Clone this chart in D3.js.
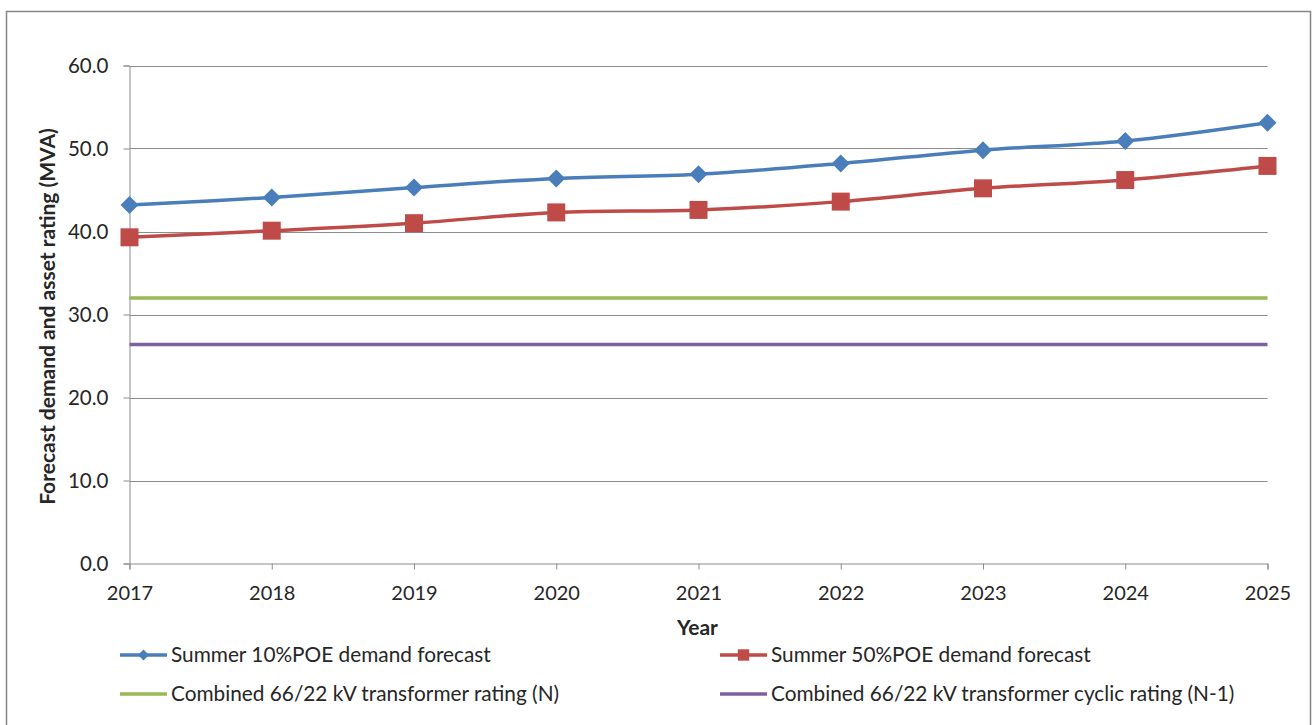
<!DOCTYPE html>
<html>
<head>
<meta charset="utf-8">
<script src="https://cdn.jsdelivr.net/npm/d3@7"></script>
<style>
  html, body { margin: 0; padding: 0; background: #fff; }
  svg { display: block; }
  text { font-family: Lato, "Open Sans", sans-serif; fill: #262626; }
</style>
</head>
<body>
<svg id="chart" width="1315" height="725"></svg>
<script>
// Forecast years and series values (MVA)
const years = [2017, 2018, 2019, 2020, 2021, 2022, 2023, 2024, 2025];
const summer10 = [43.2, 44.1, 45.3, 46.4, 46.9, 48.2, 49.8, 50.9, 53.1];
const summer50 = [39.3, 40.1, 41.0, 42.3, 42.6, 43.6, 45.2, 46.2, 47.9];
const ratingN = [32.0, 32.0, 32.0, 32.0, 32.0, 32.0, 32.0, 32.0, 32.0];
const ratingN1 = [26.4, 26.4, 26.4, 26.4, 26.4, 26.4, 26.4, 26.4, 26.4];
const yTicks = [0, 10, 20, 30, 40, 50, 60];

const series = [
  { name: "Summer 10%POE demand forecast", values: summer10, color: "#4A7EBB", marker: "diamond" },
  { name: "Summer 50%POE demand forecast", values: summer50, color: "#BE4B48", marker: "square" },
  { name: "Combined 66/22 kV transformer rating (N)", values: ratingN, color: "#98B954", marker: null },
  { name: "Combined 66/22 kV transformer cyclic rating (N-1)", values: ratingN1, color: "#7D60A0", marker: null }
];

const svg = d3.select("#chart");
const plot = { left: 129.5, right: 1267.5, top: 65.5, bottom: 563.5 };

// Outer chart frame
svg.append("rect")
  .attr("x", 6.5).attr("y", 11.5)
  .attr("width", 1304).attr("height", 730)
  .attr("fill", "#fff").attr("stroke", "#868686").attr("stroke-width", 1.5);

const x = d3.scaleLinear().domain([years[0], years[years.length - 1]]).range([plot.left, plot.right]);
const y = d3.scaleLinear().domain([0, 60]).range([plot.bottom, plot.top]);

// Horizontal gridlines
svg.append("g")
  .selectAll("line")
  .data(yTicks.filter(d => d > 0))
  .join("line")
  .attr("x1", plot.left).attr("x2", plot.right)
  .attr("y1", d => Math.round(y(d)) + 0.5).attr("y2", d => Math.round(y(d)) + 0.5)
  .attr("stroke", "#8c8c8c").attr("stroke-width", 1);

// Y axis
const yAxis = svg.append("g")
  .attr("transform", `translate(${plot.left},0)`)
  .call(d3.axisLeft(y).tickValues(yTicks).tickFormat(d3.format(".1f")).tickSize(6).tickPadding(15));
yAxis.select(".domain").attr("stroke", "#8c8c8c");
yAxis.selectAll(".tick line").attr("stroke", "#8c8c8c");
yAxis.selectAll(".tick text").attr("font-size", 20.5).attr("fill", "#262626")
  .attr("font-family", "Lato, sans-serif").attr("dy", "0.34em");

// X axis
const xAxis = svg.append("g")
  .attr("transform", `translate(0,${plot.bottom})`)
  .call(d3.axisBottom(x).tickValues(years).tickFormat(d3.format("d")).tickSize(6).tickPadding(16));
xAxis.select(".domain").attr("stroke", "#8c8c8c");
xAxis.selectAll(".tick line").attr("stroke", "#8c8c8c");
xAxis.selectAll(".tick text").attr("font-size", 20).attr("fill", "#262626")
  .attr("font-family", "Lato, sans-serif");

// Axis titles
svg.append("text")
  .attr("x", (plot.left + plot.right) / 2 - 1).attr("y", 635)
  .attr("text-anchor", "middle").attr("font-weight", "bold").attr("font-size", 21)
  .attr("fill", "#000").text("Year");
svg.append("text")
  .attr("transform", `translate(55,${(plot.top + plot.bottom) / 2 + 2}) rotate(-90)`)
  .attr("text-anchor", "middle").attr("font-weight", "bold").attr("font-size", 21)
  .attr("fill", "#000").text("Forecast demand and asset rating (MVA)");

// Series lines (smoothed)
const line = d3.line()
  .x((d, i) => x(years[i]))
  .y(d => y(d))
  .curve(d3.curveCatmullRom.alpha(0));

// Draw flat ratings first, then forecasts on top
[series[2], series[3], series[0], series[1]].forEach(s => {
  svg.append("path")
    .datum(s.values)
    .attr("d", line)
    .attr("fill", "none")
    .attr("stroke", s.color)
    .attr("stroke-width", 3.5)
    .attr("stroke-linejoin", "round");
  if (s.marker) {
    svg.append("g").selectAll("path")
      .data(s.values)
      .join("path")
      .attr("transform", (d, i) => `translate(${x(years[i])},${y(d)})` + (s.marker === "diamond" ? " rotate(45)" : ""))
      .attr("d", () => d3.symbol(d3.symbolSquare, s.marker === "diamond" ? 162 : 324)())
      .attr("fill", s.color);
  }
});

// Legend
const legendPos = [
  { x: 120, y: 655 }, { x: 720, y: 655 },
  { x: 120, y: 694 }, { x: 720, y: 694 }
];
series.forEach((s, i) => {
  const p = legendPos[i];
  const g = svg.append("g").attr("transform", `translate(${p.x},${p.y})`);
  g.append("line").attr("x1", 0).attr("x2", 47).attr("y1", 0).attr("y2", 0)
    .attr("stroke", s.color).attr("stroke-width", 3.5);
  if (s.marker) {
    g.append("path")
      .attr("transform", `translate(23.5,0)` + (s.marker === "diamond" ? " rotate(45)" : ""))
      .attr("d", d3.symbol(d3.symbolSquare, s.marker === "diamond" ? 60 : 130)())
      .attr("fill", s.color);
  }
  g.append("text").attr("x", 51).attr("y", 0).attr("dy", "0.35em")
    .attr("font-size", 20.8).attr("fill", "#262626").text(s.name);
});
</script>
</body>
</html>
